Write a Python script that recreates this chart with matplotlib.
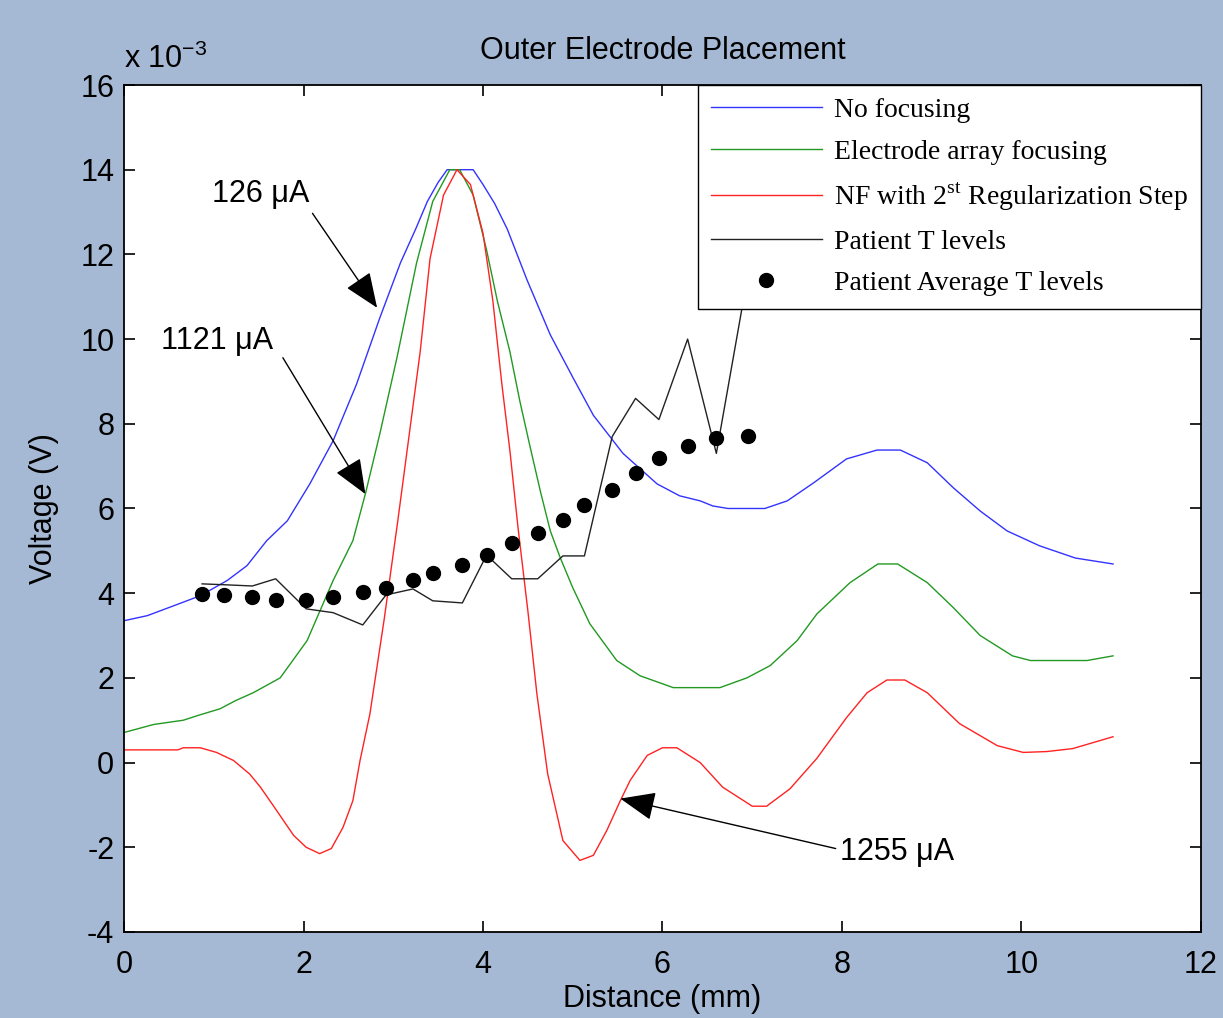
import matplotlib
matplotlib.use("Agg")
import matplotlib.pyplot as plt

# values (voltage in units of 1e-3 V)
blue_x = [0, 0.26, 0.55, 0.85, 1.15, 1.37, 1.59, 1.82, 2.07, 2.33, 2.59, 2.85, 3.08, 3.25, 3.38, 3.5,
          3.6, 3.75, 3.89, 4.0, 4.13, 4.27, 4.49, 4.75, 5.0, 5.23, 5.56, 5.94, 6.19, 6.42, 6.56, 6.73,
          7.14, 7.39, 7.68, 8.05, 8.39, 8.65, 8.95, 9.24, 9.54, 9.84, 10.2, 10.6, 11.02]
blue_y = [3.35, 3.47, 3.7, 3.94, 4.3, 4.65, 5.24, 5.71, 6.58, 7.6, 8.93, 10.5, 11.8, 12.6, 13.25, 13.7,
          14.0, 14.0, 14.0, 13.65, 13.2, 12.6, 11.4, 10.1, 9.1, 8.2, 7.3, 6.58, 6.3, 6.18, 6.06, 6.0,
          6.0, 6.18, 6.6, 7.17, 7.38, 7.38, 7.08, 6.49, 5.94, 5.47, 5.12, 4.83, 4.69]

green_x = [0, 0.33, 0.66, 0.85, 1.07, 1.24, 1.44, 1.74, 2.04, 2.33, 2.55, 2.69, 2.85, 3.04, 3.26, 3.44,
           3.63, 3.74, 3.89, 4.04, 4.16, 4.3, 4.41, 4.52, 4.64, 4.75, 4.86, 5.0, 5.19, 5.49, 5.75, 6.12,
           6.64, 6.94, 7.2, 7.5, 7.72, 8.09, 8.4, 8.62, 8.95, 9.24, 9.54, 9.9, 10.1, 10.73, 11.02]
green_y = [0.71, 0.9, 1.0, 1.13, 1.27, 1.46, 1.65, 2.0, 2.88, 4.3, 5.24, 6.35, 7.76, 9.55, 11.8, 13.25,
           14.0, 14.0, 13.4, 12.1, 10.9, 9.7, 8.54, 7.5, 6.4, 5.47, 4.84, 4.13, 3.28, 2.41, 2.05, 1.77,
           1.77, 2.0, 2.29, 2.88, 3.51, 4.25, 4.69, 4.69, 4.25, 3.66, 3.0, 2.52, 2.41, 2.41, 2.52]

red_x = [0, 0.6, 0.66, 0.85, 1.03, 1.22, 1.4, 1.52, 1.7, 1.89, 2.03, 2.18, 2.31, 2.44, 2.55, 2.63,
         2.74, 2.9, 3.05, 3.3, 3.41, 3.56, 3.71, 3.86, 4.0, 4.11, 4.21, 4.3, 4.39, 4.5, 4.6, 4.72,
         4.89, 5.08, 5.23, 5.38, 5.53, 5.64, 5.83, 6.0, 6.16, 6.42, 6.67, 7.0, 7.16, 7.42, 7.72, 8.05,
         8.28, 8.5, 8.7, 8.95, 9.31, 9.73, 10.02, 10.28, 10.57, 11.02]
red_y = [0.3, 0.3, 0.35, 0.35, 0.24, 0.05, -0.27, -0.58, -1.13, -1.72, -2.0, -2.15, -2.03, -1.53, -0.9, 0.05,
         1.15, 3.4, 5.7, 9.7, 11.9, 13.4, 14.0, 13.65, 12.5, 10.9, 8.94, 7.36, 5.55, 3.58, 1.63, -0.26,
         -1.84, -2.31, -2.19, -1.6, -0.9, -0.42, 0.17, 0.35, 0.35, 0.0, -0.58, -1.03, -1.03, -0.62, 0.1, 1.06,
         1.65, 1.95, 1.95, 1.65, 0.92, 0.4, 0.24, 0.26, 0.33, 0.61]

t_x = [0.87, 1.11, 1.43, 1.69, 2.03, 2.33, 2.66, 2.92, 3.22, 3.44, 3.77, 4.04, 4.32, 4.61, 4.89,
       5.13, 5.44, 5.70, 5.96, 6.28, 6.60, 6.95]
t_levels = [4.22, 4.2, 4.17, 4.34, 3.63, 3.54, 3.25, 3.96, 4.1, 3.82, 3.77, 4.9, 4.34, 4.34, 4.88,
            4.88, 7.7, 8.6, 8.1, 10.0, 7.3, 11.5]
t_avg = [3.98, 3.96, 3.9, 3.84, 3.84, 3.9, 4.03, 4.13, 4.31, 4.48, 4.67, 4.9, 5.19, 5.42, 5.73,
         6.08, 6.44, 6.84, 7.19, 7.48, 7.67, 7.71]

labels = ["No focusing", "Electrode array focusing",
          r"NF with 2$^{\mathrm{st}}$ Regularization Step",
          "Patient T levels", "Patient Average T levels"]

plt.rcParams['font.family'] = ['Liberation Sans', 'DejaVu Sans']
plt.rcParams['mathtext.fontset'] = 'custom'
plt.rcParams['mathtext.rm'] = 'Liberation Serif'
plt.rcParams['mathtext.sf'] = 'Liberation Sans'
plt.rcParams['axes.unicode_minus'] = False

bg = '#A5B9D4'
fig = plt.figure(figsize=(12.23, 10.18), dpi=100, facecolor=bg)
ax = fig.add_axes([0.1014, 0.0845, 0.8806, 0.832])

ax.plot(blue_x, blue_y, color='#3333FF', lw=1.0, label=labels[0])
ax.plot(green_x, green_y, color='#229922', lw=1.0, label=labels[1])
ax.plot(red_x, red_y, color='#FF2222', lw=1.0, label=labels[2])
ax.plot(t_x, t_levels, color='#222222', lw=1.0, label=labels[3])
ax.plot(t_x, t_avg, 'o', color='black', markersize=10, label=labels[4])

ax.set_xlim(0, 12)
ax.set_ylim(-4, 16)
ax.set_xticks(range(0, 13, 2))
ax.set_yticks(range(-4, 17, 2))
ax.tick_params(direction='in', top=True, right=True, length=8, width=1.2, labelsize=22)
ax.tick_params(axis='x', pad=13)
ax.tick_params(axis='y', pad=7)
for s in ax.spines.values():
    s.set_linewidth(1.3)

ax.set_title("Outer Electrode Placement", fontsize=22, pad=19)
ax.set_xlabel("Distance (mm)", fontsize=22, labelpad=3)
ax.set_ylabel("Voltage (V)", fontsize=22, labelpad=15)
fig.text(0.101, 0.933, r"x 10$^{\mathsf{-3}}$", fontsize=22, va='baseline', ha='left')

arrow = dict(arrowstyle='-|>,head_length=1.1,head_width=0.45', color='black', lw=1.0,
             mutation_scale=20, shrinkA=0, shrinkB=0)
ax.text(1.52, 13.42, "126 μA", fontsize=22, ha='center', va='center')
ax.annotate("", xy=(2.82, 10.74), xytext=(2.1, 12.97), arrowprops=arrow)
ax.text(1.04, 9.95, "1121 μA", fontsize=22, ha='center', va='center')
ax.annotate("", xy=(2.69, 6.34), xytext=(1.77, 9.56), arrowprops=arrow)
ax.text(8.61, -2.1, "1255 μA", fontsize=22, ha='center', va='center')
ax.annotate("", xy=(5.53, -0.85), xytext=(7.93, -2.03), arrowprops=arrow)

leg = ax.legend(loc='upper right', bbox_to_anchor=(1, 1), borderaxespad=0, fancybox=False,
                framealpha=1, edgecolor='black', prop={'family': 'Liberation Serif', 'size': 20},
                handlelength=4.0, handletextpad=0.45, labelspacing=0.58, borderpad=0.45)
leg.get_frame().set_linewidth(1.0)

fig.savefig("out.png", dpi=100, facecolor=bg)
